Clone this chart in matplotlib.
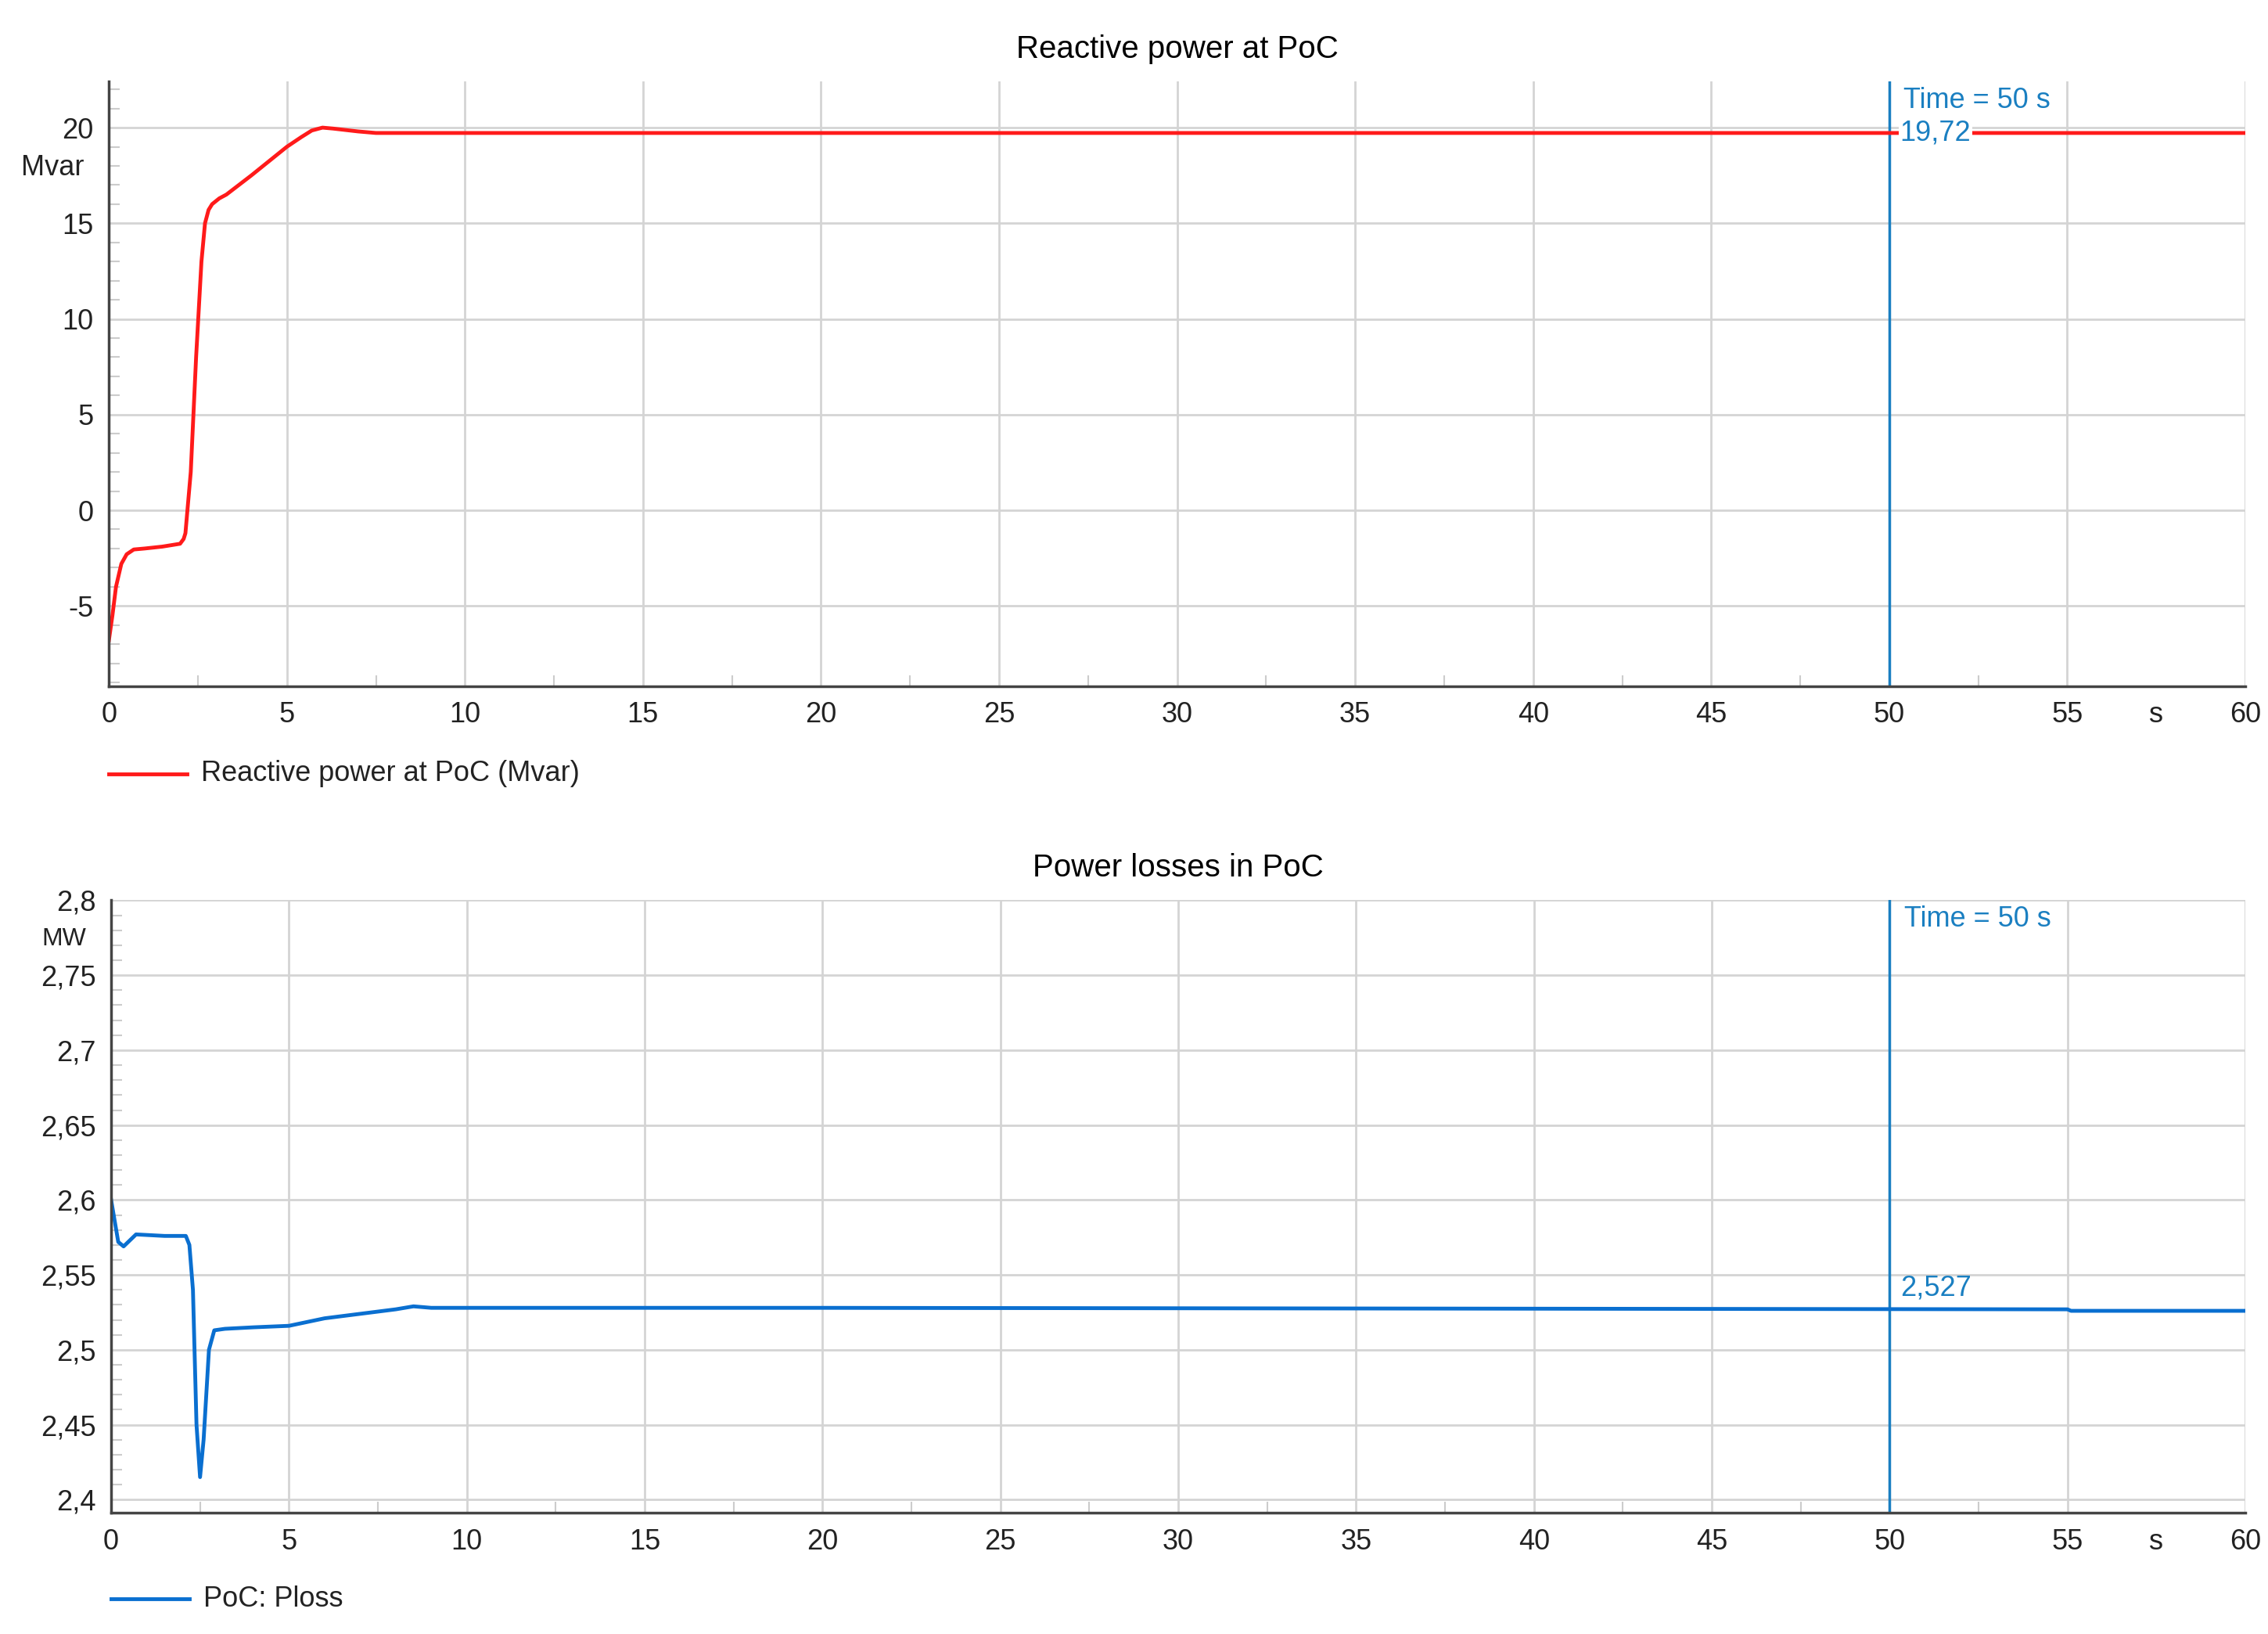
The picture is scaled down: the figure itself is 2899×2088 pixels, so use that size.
import matplotlib.pyplot as plt
from matplotlib.ticker import MultipleLocator, FuncFormatter

plt.rcParams['font.family'] = ['Liberation Sans', 'DejaVu Sans']

# Reactive power at PoC (Mvar)
q_time = [0, 0.1, 0.2, 0.35, 0.5, 0.7, 1.0, 1.5, 2.0, 2.1, 2.15, 2.3, 2.45, 2.6, 2.7, 2.8, 2.9, 3.1, 3.3,
          4.0, 5.0, 5.4, 5.7, 6.0, 6.3, 7.0, 7.5, 60]
q_vals = [-6.8, -5.5, -4.0, -2.8, -2.3, -2.05, -2.0, -1.9, -1.75, -1.5, -1.2, 2.0, 8.0, 13.0, 15.0, 15.7, 16.0, 16.3, 16.5,
          17.5, 19.0, 19.5, 19.85, 20.0, 19.95, 19.8, 19.72, 19.72]

# Power losses (MW)
p_time = [0, 0.2, 0.35, 0.7, 1.5, 2.1, 2.2, 2.3, 2.4, 2.5, 2.6, 2.75, 2.9, 3.2,
          4.0, 5.0, 6.0, 7.0, 8.0, 8.5, 9.0, 20.0, 55.0, 55.1, 60]
p_vals = [2.60, 2.572, 2.569, 2.577, 2.576, 2.576, 2.57, 2.54, 2.45, 2.415, 2.44, 2.50, 2.513, 2.514,
          2.515, 2.516, 2.521, 2.524, 2.527, 2.529, 2.528, 2.528, 2.527, 2.526, 2.526]

x_ticks = [0, 5, 10, 15, 20, 25, 30, 35, 40, 45, 50, 55, 57.5, 60]
x_labels = ['0', '5', '10', '15', '20', '25', '30', '35', '40', '45', '50', '55', 's', '60']
cursor_t = 50
cursor_col = '#1a7fc1'
fs = 26

fig = plt.figure(figsize=(28.99, 20.88), dpi=100)
ax1 = fig.add_axes([0.048, 0.580, 0.942, 0.370])
ax2 = fig.add_axes([0.049, 0.074, 0.941, 0.375])


def style(ax, ylo, yhi, major, minor, fmt):
    ax.set_xlim(0, 60)
    ax.set_ylim(ylo, yhi)
    ax.set_xticks(x_ticks)
    ax.set_xticklabels(x_labels)
    ax.xaxis.set_minor_locator(MultipleLocator(2.5))
    ax.yaxis.set_major_locator(MultipleLocator(major))
    ax.yaxis.set_minor_locator(MultipleLocator(minor))
    ax.yaxis.set_major_formatter(FuncFormatter(fmt))
    ax.grid(True, which='major', color='#d4d4d4', linewidth=2)
    ax.get_xgridlines()[12].set_visible(False)
    for s in ['top', 'right']:
        ax.spines[s].set_visible(False)
    for s in ['left', 'bottom']:
        ax.spines[s].set_color('#444444')
        ax.spines[s].set_linewidth(2.5)
    ax.tick_params(which='major', length=0, labelsize=fs, colors='#222222', pad=14)
    ax.tick_params(which='minor', length=10, color='#cccccc', width=1.5, direction='in')
    ax.axvline(cursor_t, color=cursor_col, linewidth=2.5)
    ax.text(cursor_t + 0.4, 0.969, 'Time = 50 s', transform=ax.get_xaxis_transform(), ha='left', va='center',
            fontsize=fs, color=cursor_col)


# top panel
style(ax1, -9.2, 22.4, 5, 1, lambda v, p: f'{v:g}')
ax1.plot(q_time, q_vals, color='#ff1a1a', linewidth=3.5)
ax1.text(50.3, 19.72, '19,72', ha='left', va='center', fontsize=fs, color=cursor_col,
         bbox=dict(facecolor='white', edgecolor='none', pad=1))
ax1.text(-0.7, 17.9, 'Mvar', ha='right', va='center', fontsize=fs, color='#222222')
ax1.set_title('Reactive power at PoC', fontsize=29, pad=22)
ax1.plot([0, 2.2], [-0.145, -0.145], transform=ax1.get_xaxis_transform(), color='#ff1a1a',
         linewidth=3.5, clip_on=False)
ax1.text(2.6, -0.145, 'Reactive power at PoC (Mvar)', transform=ax1.get_xaxis_transform(),
         ha='left', va='center', fontsize=fs, color='#222222')

# bottom panel
style(ax2, 2.391, 2.8, 0.05, 0.01, lambda v, p: f'{v:g}'.replace('.', ','))
ax2.plot(p_time, p_vals, color='#0a6fd0', linewidth=3.5)
ax2.text(50.3, 2.532, '2,527', ha='left', va='bottom', fontsize=fs, color=cursor_col)
ax2.text(-0.7, 2.774, 'MW', ha='right', va='center', fontsize=23, color='#222222')
ax2.set_title('Power losses in PoC', fontsize=29, pad=22)
ax2.plot([0, 2.2], [-0.14, -0.14], transform=ax2.get_xaxis_transform(), color='#0a6fd0',
         linewidth=3.5, clip_on=False)
ax2.text(2.6, -0.14, 'PoC: Ploss', transform=ax2.get_xaxis_transform(),
         ha='left', va='center', fontsize=fs, color='#222222')

fig.savefig('out.png', dpi=100)
